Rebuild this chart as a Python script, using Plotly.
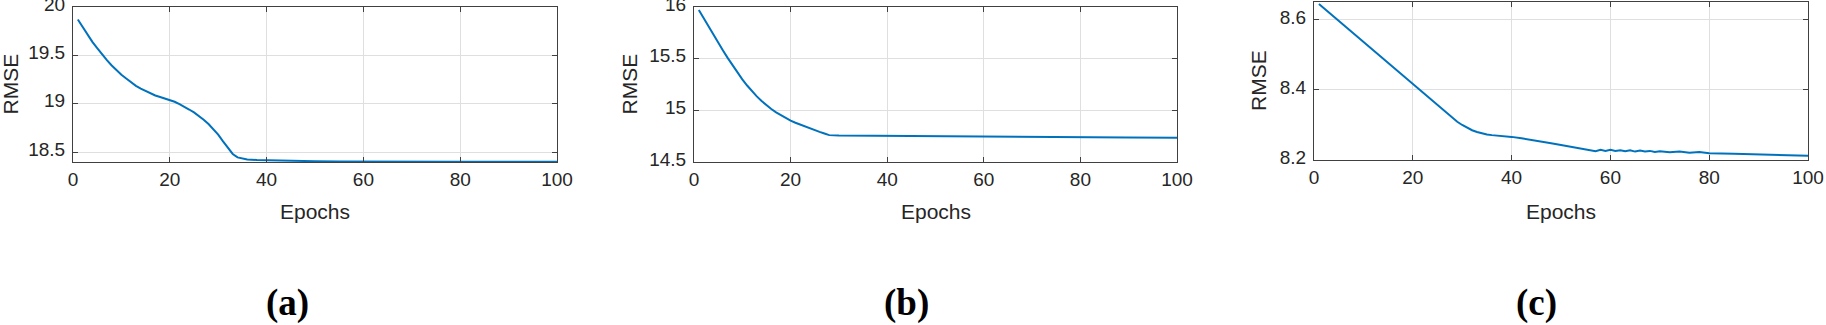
import plotly.graph_objects as go

# ---------------- data ----------------
epochs_a = list(range(1, 36)) + [36, 38, 40, 42, 45, 50, 55, 60, 70, 80, 90, 100]
rmse_a = [19.87, 19.79, 19.71, 19.64, 19.575, 19.51, 19.45, 19.395, 19.345, 19.30,
          19.26, 19.22, 19.185, 19.155, 19.13, 19.105, 19.085, 19.07, 19.055, 19.04,
          19.02, 18.995, 18.97, 18.94, 18.91, 18.875, 18.835, 18.79, 18.74, 18.68,
          18.61, 18.54, 18.48, 18.445, 18.43,
          18.423, 18.418, 18.415, 18.412, 18.41, 18.405, 18.403, 18.401, 18.40, 18.40, 18.40, 18.40]

epochs_b = list(range(1, 29)) + [30, 40, 50, 60, 70, 80, 90, 100]
rmse_b = [15.97, 15.89, 15.81, 15.73, 15.655, 15.58, 15.505, 15.435, 15.365, 15.30,
          15.24, 15.185, 15.135, 15.09, 15.05, 15.013, 14.98, 14.952, 14.925, 14.90,
          14.88, 14.861, 14.843, 14.826, 14.809, 14.792, 14.776, 14.76,
          14.757, 14.755, 14.752, 14.75, 14.747, 14.742, 14.738, 14.735]

epochs_c = list(range(1, 37)) + [38, 40, 42, 44, 46, 48, 50, 52, 54, 56] + \
    list(range(57, 71)) + [72, 74, 76, 78, 80, 85, 90, 95, 98, 100]
rmse_c = [8.645, 8.633, 8.620, 8.608, 8.596, 8.584, 8.572, 8.560, 8.548, 8.536,
          8.524, 8.512, 8.500, 8.488, 8.476, 8.463, 8.451, 8.439, 8.427, 8.415,
          8.403, 8.391, 8.379, 8.367, 8.355, 8.343, 8.331, 8.320, 8.309, 8.300,
          8.292, 8.285, 8.280, 8.276, 8.273, 8.271,
          8.269, 8.266, 8.262, 8.258, 8.253, 8.248, 8.243, 8.238, 8.232, 8.226,
          8.225, 8.229, 8.226, 8.229, 8.226, 8.228, 8.225, 8.228, 8.224, 8.227,
          8.224, 8.226, 8.223, 8.225,
          8.222, 8.224, 8.221, 8.223, 8.219, 8.218, 8.216, 8.215, 8.214, 8.212]

x_ticks = [0, 20, 40, 60, 80, 100]
y_ticks_a = [18.5, 19, 19.5, 20]
y_ticks_b = [14.5, 15, 15.5, 16]
y_ticks_c = [8.2, 8.4, 8.6]
y_ranges = [[18.397, 20], [14.5, 16], [8.2, 8.651]]
panel_labels = ["(a)", "(b)", "(c)"]
x_title = "Epochs"
y_title = "RMSE"

# ---------------- layout geometry (pixels) ----------------
W, H = 1826, 325
panels = [  # left, right, top, bottom
    (73, 557, 7, 162),
    (694, 1177, 7, 162),
    (1314, 1808, 2, 160),
]
ylabel_x = [10, 629, 1258]
label_x = [287, 906, 1536]

LINE = "#0072BD"
TXT = "#262626"
GRID = "#dfdfdf"
AX = "#404040"

fig = go.Figure()
series = [(epochs_a, rmse_a), (epochs_b, rmse_b), (epochs_c, rmse_c)]
yticks = [y_ticks_a, y_ticks_b, y_ticks_c]

for i, ((ex, ey), (l, r, t, b)) in enumerate(zip(series, panels)):
    n = "" if i == 0 else str(i + 1)
    fig.add_trace(go.Scatter(x=ex, y=ey, mode="lines",
                             line=dict(color=LINE, width=2),
                             xaxis="x" + n, yaxis="y" + n, showlegend=False,
                             cliponaxis=True, hoverinfo="skip"))
    common = dict(showline=True, linecolor=AX, linewidth=1, mirror="ticks",
                  ticks="inside", ticklen=5, tickwidth=1, tickcolor=AX,
                  showgrid=True, gridcolor=GRID, gridwidth=1, zeroline=False,
                  ticklabeloverflow="allow", automargin=False,
                  tickfont=dict(family="Liberation Sans, Arial", size=19, color=TXT))
    fig.update_layout(**{
        "xaxis" + n: dict(domain=[l / W, r / W], anchor="y" + n, range=[0, 100],
                          tickvals=x_ticks, ticktext=[str(v) for v in x_ticks], **common),
        "yaxis" + n: dict(domain=[1 - b / H, 1 - t / H], anchor="x" + n, range=y_ranges[i],
                          tickvals=yticks[i], ticktext=[f"{v:g}" for v in yticks[i]],
                          ticklabelstandoff=3, ticklabelshift=-3, **common),
    })
    # axis titles
    fig.add_annotation(x=(l + r) / 2 / W, y=1 - 211 / H, xref="paper", yref="paper",
                       text=x_title, showarrow=False, xanchor="center", yanchor="middle",
                       font=dict(family="Liberation Sans, Arial", size=21, color=TXT))
    fig.add_annotation(x=ylabel_x[i] / W, y=1 - ((t + b) / 2) / H, xref="paper", yref="paper",
                       text=y_title, showarrow=False, xanchor="center", yanchor="middle",
                       textangle=-90,
                       font=dict(family="Liberation Sans, Arial", size=21, color=TXT))
    # panel label
    fig.add_annotation(x=label_x[i] / W, y=1 - 303 / H, xref="paper", yref="paper",
                       text="<b>" + panel_labels[i] + "</b>", showarrow=False,
                       xanchor="center", yanchor="middle",
                       font=dict(family="Liberation Serif, Times New Roman", size=37, color="black"))

fig.update_layout(width=W, height=H,
                  margin=dict(l=0, r=0, t=0, b=0, pad=0, autoexpand=False),
                  paper_bgcolor="white", plot_bgcolor="white", hovermode=False)

fig.write_html("out.html", config={"displayModeBar": False, "staticPlot": True},
               post_script="document.body.style.margin='0';document.body.style.overflow='hidden';")
